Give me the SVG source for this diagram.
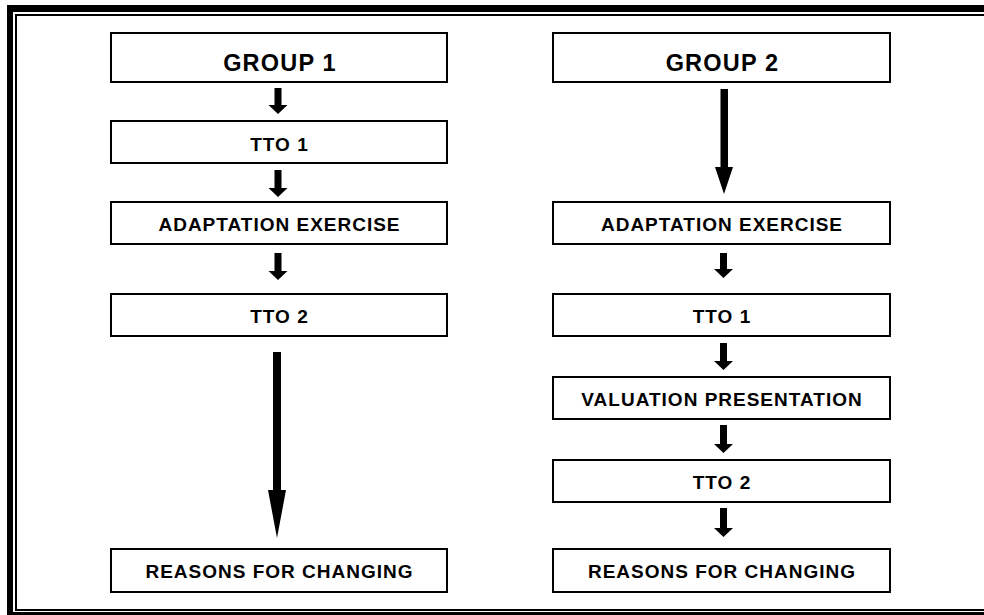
<svg xmlns="http://www.w3.org/2000/svg" width="984" height="615" viewBox="0 0 984 615">
<style>
.box{fill:#fff;stroke:#000;stroke-width:2}
.t{font-family:"Liberation Sans",Arial,sans-serif;font-weight:bold;fill:#000;text-anchor:middle}
.big{font-size:23.5px;letter-spacing:1.2px}
.sm{font-size:19px;letter-spacing:1px}
.arr{fill:#000}
</style>
<rect x="0" y="0" width="984" height="615" fill="#fff"/>
<g id="frame" fill="#000">
<rect x="7" y="5" width="977" height="7"/>
<rect x="7" y="5" width="6" height="615"/>
<rect x="7" y="612" width="977" height="8"/>
<rect x="15" y="14" width="969" height="2"/>
<rect x="15" y="14" width="2" height="597"/>
<rect x="15" y="609" width="969" height="2"/>
</g>
<g id="connectors" class="arr">
<path d="M274.5,88 H281.5 V105 H287.5 L278,114 L268.5,105 H274.5 Z"/>
<path d="M274.5,170 H281.5 V188 H287.5 L278,197 L268.5,188 H274.5 Z"/>
<path d="M274.5,253 H281.5 V271 H287.5 L278,280 L268.5,271 H274.5 Z"/>
<path d="M273,352 H281 V490 H286 L277,538 L268,490 H273 Z"/>
<path d="M720.5,89 H728 V167 H733 L724,194 L715,167 H720.5 Z"/>
<path d="M720,253 H727 V269 H733 L723.5,278 L714,269 H720 Z"/>
<path d="M720,343 H727 V361 H733 L723.5,370 L714,361 H720 Z"/>
<path d="M720,425 H727 V444 H733 L723.5,453 L714,444 H720 Z"/>
<path d="M720,508 H727 V528 H733 L723.5,537 L714,528 H720 Z"/>
</g>
<g id="g1"><rect class="box" x="111" y="33" width="336" height="49"/><text class="t big" x="280" y="70.5">GROUP 1</text></g>
<g id="g1tto1"><rect class="box" x="111" y="121" width="336" height="42"/><text class="t sm" x="279.5" y="151">TTO 1</text></g>
<g id="g1adapt"><rect class="box" x="111" y="202" width="336" height="42"/><text class="t sm" x="279.5" y="231">ADAPTATION EXERCISE</text></g>
<g id="g1tto2"><rect class="box" x="111" y="294" width="336" height="42"/><text class="t sm" x="279.5" y="323">TTO 2</text></g>
<g id="g1reasons"><rect class="box" x="111" y="549" width="336" height="43"/><text class="t sm" x="279.5" y="577.5">REASONS FOR CHANGING</text></g>
<g id="g2"><rect class="box" x="553" y="33" width="337" height="49"/><text class="t big" x="722.5" y="70.5">GROUP 2</text></g>
<g id="g2adapt"><rect class="box" x="553" y="202" width="337" height="42"/><text class="t sm" x="722" y="231">ADAPTATION EXERCISE</text></g>
<g id="g2tto1"><rect class="box" x="553" y="294" width="337" height="42"/><text class="t sm" x="722" y="323">TTO 1</text></g>
<g id="g2val"><rect class="box" x="553" y="377" width="337" height="42"/><text class="t sm" x="722" y="406">VALUATION PRESENTATION</text></g>
<g id="g2tto2"><rect class="box" x="553" y="460" width="337" height="42"/><text class="t sm" x="722" y="489">TTO 2</text></g>
<g id="g2reasons"><rect class="box" x="553" y="549" width="337" height="43"/><text class="t sm" x="722" y="577.5">REASONS FOR CHANGING</text></g>
</svg>
